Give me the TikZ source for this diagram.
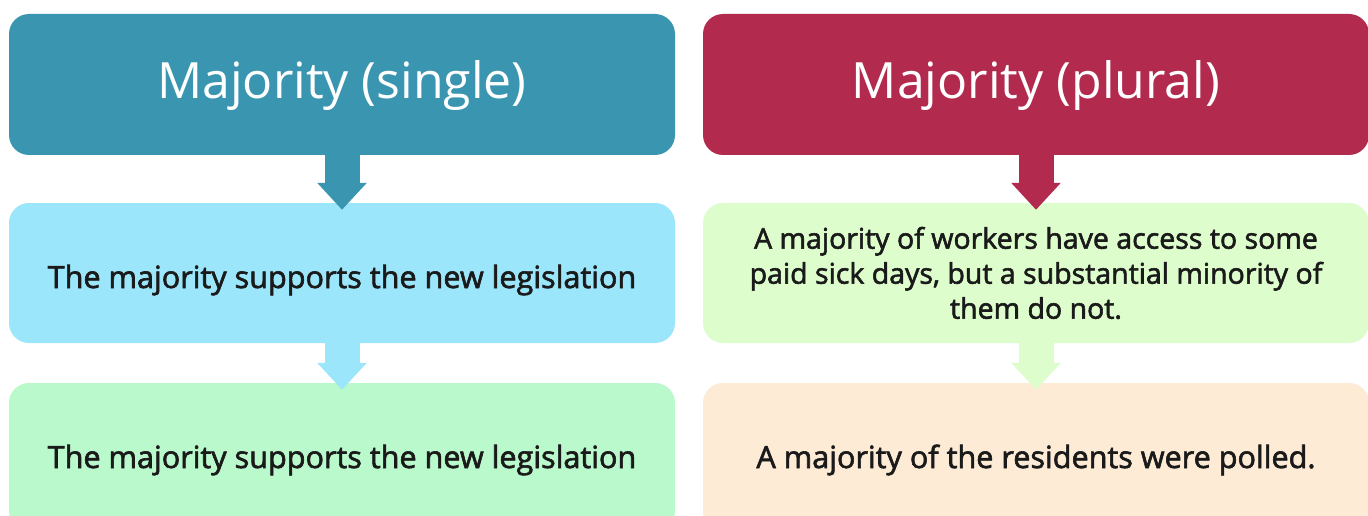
\documentclass[tikz,border=0pt]{standalone}
\usepackage{fontspec}
\setmainfont{Open Sans}
\newfontfamily\semib{Open Sans}[FakeBold=2]
\usetikzlibrary{arrows.meta}
\definecolor{teal1}{HTML}{3A96B0}
\definecolor{crim1}{HTML}{B22A4E}
\definecolor{lblue}{HTML}{9CE6FC}
\definecolor{lgreen}{HTML}{BAF9CB}
\definecolor{lgreen2}{HTML}{DEFDCC}
\definecolor{lpeach}{HTML}{FDEBD6}
\definecolor{txt}{HTML}{1A1A1A}
\newcommand{\dropby}[2]{\raisebox{-#1pt}[0pt][0pt]{#2}}
\begin{document}
\begin{tikzpicture}[x=1pt,y=-1pt,
  box/.style={rounded corners=20pt,minimum width=666pt,inner sep=0pt,align=center},
  titlebox/.style={box,minimum height=141pt,text=white,font=\fontsize{50}{56}\selectfont},
  bodybox/.style={box,text=txt,font=\semib\fontsize{30.6}{35}\selectfont},
  multibox/.style={box,text=txt,font=\semib\fontsize{28.5}{35}\selectfont},
  conn/.style={line width=35pt,-{Triangle[width=48pt,length=27pt]}}]
\useasboundingbox (0,0) rectangle (1368,516);
\clip (0,0) rectangle (1368,516);
\fill[white] (0,0) rectangle (1368,516);
% left column
\node[titlebox,fill=teal1] (t1) at (342,84.5) {\dropby{14.5}{Majority (single)}};
\node[bodybox,fill=lblue,minimum height=140pt] (m1) at (342,273) {\dropby{15}{The majority supports the new legislation}};
\node[bodybox,fill=lgreen,minimum height=148pt] (b1) at (342,457) {\dropby{11}{The majority supports the new legislation}};
% right column
\node[titlebox,fill=crim1] (t2) at (1036,84.5) {\dropby{14.5}{Majority (plural)}};
\node[multibox,fill=lgreen2,minimum height=140pt] (m2) at (1036,273) {A majority of workers have access to some\\paid sick days, but a substantial minority of\\them do not.};
\node[bodybox,fill=lpeach,minimum height=148pt] (b2) at (1036,457) {\dropby{11}{A majority of the residents were polled.}};
% arrow tips
\coordinate (a1) at ([yshift=-7pt]m1.north);
\coordinate (a2) at ([yshift=-7pt]b1.north);
\coordinate (a3) at ([yshift=-7pt]m2.north);
\coordinate (a4) at ([yshift=-7pt]b2.north);
\draw[conn,teal1] (t1.south) -- (a1);
\draw[conn,lblue] (m1.south) -- (a2);
\draw[conn,crim1] (t2.south) -- (a3);
\draw[conn,lgreen2] (m2.south) -- (a4);
\end{tikzpicture}
\end{document}
